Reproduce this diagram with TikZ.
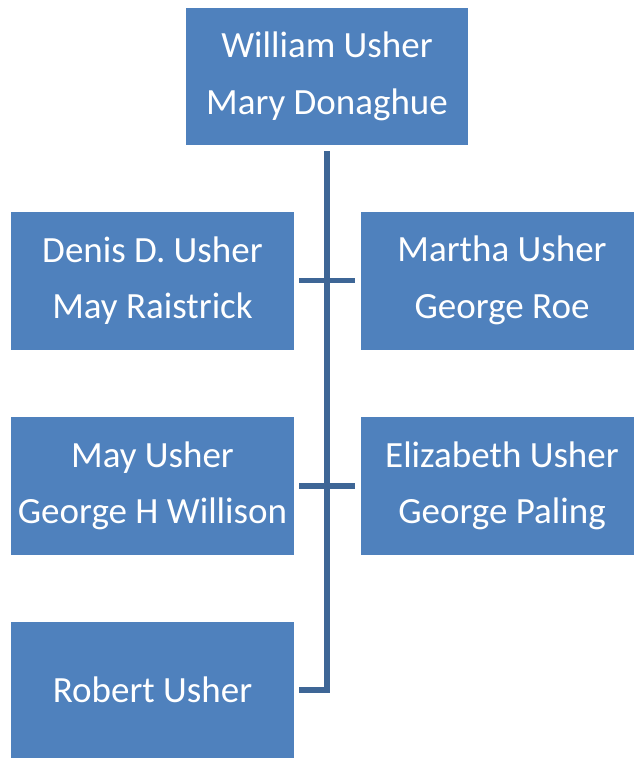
\documentclass[tikz,border=0pt]{standalone}
\usepackage{fontspec}
\setmainfont{Carlito}
\definecolor{boxfill}{HTML}{4F81BD}
\definecolor{linkcol}{HTML}{3E6696}
\begin{document}
\begin{tikzpicture}[x=1pt,y=-1pt,
  person/.style={fill=boxfill, draw=none, text=white, align=center,
    inner sep=0pt, font=\fontsize{37}{56.6}\selectfont,
    minimum width=283pt, minimum height=138pt},
  link/.style={draw=linkcol, line width=5.5pt}]
  \useasboundingbox (0,0) rectangle (633,758);
  \node[person, minimum width=282pt, minimum height=137pt] (top) at (327,76.5)
    {William Usher\\Mary Donaghue};
  \node[person] (l1) at (152.5,280.5)
    {Denis D. Usher\\May Raistrick};
  \node[person] (r1) at (502,280.5)
    {Martha Usher\\George Roe};
  \node[person] (l2) at (152.5,486)
    {May Usher\\George H Willison};
  \node[person] (r2) at (502,486)
    {Elizabeth Usher\\George Paling};
  \node[person, minimum height=137pt] (l3) at (152.5,690)
    {Robert Usher};
  % trunk down from the parents, ending at the last child
  \draw[link] ([yshift=-6pt]top.south) |- ([xshift=5pt]l3.east);
  % bars across to each pair of children
  \draw[link] ([xshift=5pt]l1.east) -- ([xshift=-5pt]r1.west);
  \draw[link] ([xshift=5pt]l2.east) -- ([xshift=-5pt]r2.west);
\end{tikzpicture}
\end{document}
